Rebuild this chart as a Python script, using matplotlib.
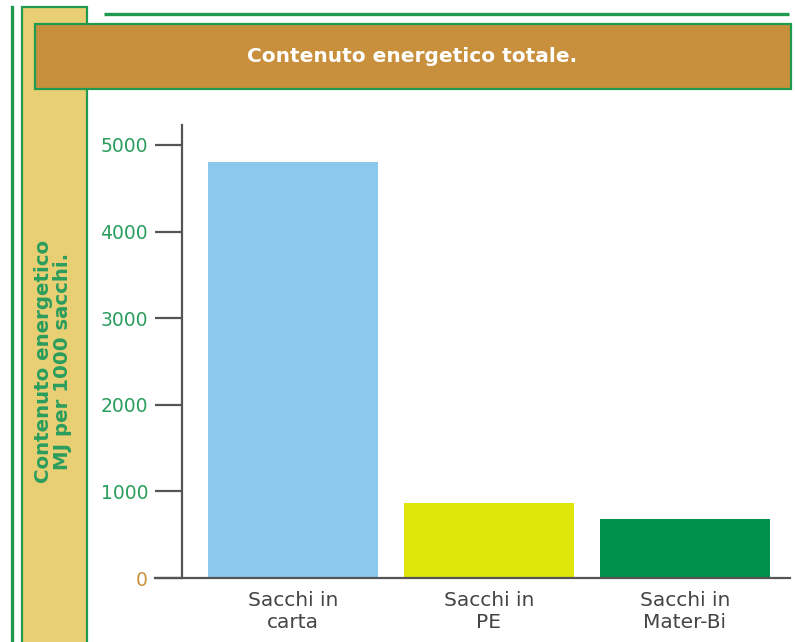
import matplotlib
matplotlib.use("Agg")
import matplotlib.pyplot as plt
from matplotlib.patches import Rectangle
from matplotlib.lines import Line2D

categories = ["Sacchi in\ncarta", "Sacchi in\nPE", "Sacchi in\nMater-Bi"]
values = [4800, 870, 680]
bar_colors = ["#8cc8ec", "#dfe60a", "#00914a"]
yticks = [0, 1000, 2000, 3000, 4000, 5000]
ytick_labels = ["0", "1000", "2000", "3000", "4000", "5000"]
title = "Contenuto energetico totale."
ylabel = "Contenuto energetico\nMJ per 1000 sacchi."

W, H = 795, 642
fig = plt.figure(figsize=(W / 100, H / 100), dpi=100)
fig.patch.set_facecolor("white")

GREEN = "#1f9a4f"
TXTGREEN = "#2a9d5c"
FONT = "DejaVu Sans"

def fx(x):
    return x / W

def fy(y):
    return 1 - y / H

def rect(x0, y0, x1, y1, **kw):
    r = Rectangle((fx(x0), fy(y1)), fx(x1) - fx(x0), fy(y0) - fy(y1),
                  transform=fig.transFigure, **kw)
    fig.add_artist(r)

# decorations
fig.add_artist(Line2D([fx(12), fx(12)], [fy(7), fy(650)], transform=fig.transFigure,
                      color=GREEN, lw=2.4))
rect(22, 7, 87, 660, facecolor="#e8cf74", edgecolor=GREEN, lw=1.6)
fig.add_artist(Line2D([fx(104), fx(789)], [fy(13.5), fy(13.5)], transform=fig.transFigure,
                      color=GREEN, lw=2.4, solid_capstyle="butt"))
rect(35, 24, 791, 89, facecolor="#c8903c", edgecolor=GREEN, lw=1.6)
fig.text(fx(412), fy(56), title, color="white", fontsize=14.5, fontweight="bold",
         family=FONT, ha="center", va="center")
fig.text(fx(53), fy(361), ylabel, color=TXTGREEN, fontsize=14.2, fontweight="bold",
         family=FONT, ha="center", va="center", rotation=90, linespacing=0.95)

# axes
ax_l, ax_r, ax_b, ax_t = 155, 790, 578, 125
ax = fig.add_axes([fx(ax_l), fy(ax_b), fx(ax_r) - fx(ax_l), fy(ax_t) - fy(ax_b)])
ax.set_facecolor("none")
x = list(range(len(categories)))
ax.bar(x, values, width=0.867, color=bar_colors, zorder=1)
ax.set_xlim(-0.704, 2.536)
ax.set_ylim(0, 5230)

for s in ["top", "right"]:
    ax.spines[s].set_visible(False)
ax.spines["left"].set_position(("axes", 27 / 635))
ax.spines["left"].set_color("#555555")
ax.spines["bottom"].set_color("#555555")
ax.spines["left"].set_linewidth(1.6)
ax.spines["bottom"].set_linewidth(1.6)
ax.spines["bottom"].set_zorder(3)

ax.set_yticks(yticks)
ax.set_yticklabels(ytick_labels, family=FONT, fontsize=13.5)
ax.tick_params(axis="y", direction="out", length=19.4, width=1.6, color="#555555", pad=5)
for lbl in ax.get_yticklabels():
    lbl.set_color("#c8903c" if lbl.get_text() == "0" else TXTGREEN)

ax.set_xticks(x)
ax.set_xticklabels(categories, family=FONT, fontsize=14.5, color="#444444", linespacing=1.2)
ax.tick_params(axis="x", length=0, pad=9)

fig.savefig("out.png", dpi=100)
